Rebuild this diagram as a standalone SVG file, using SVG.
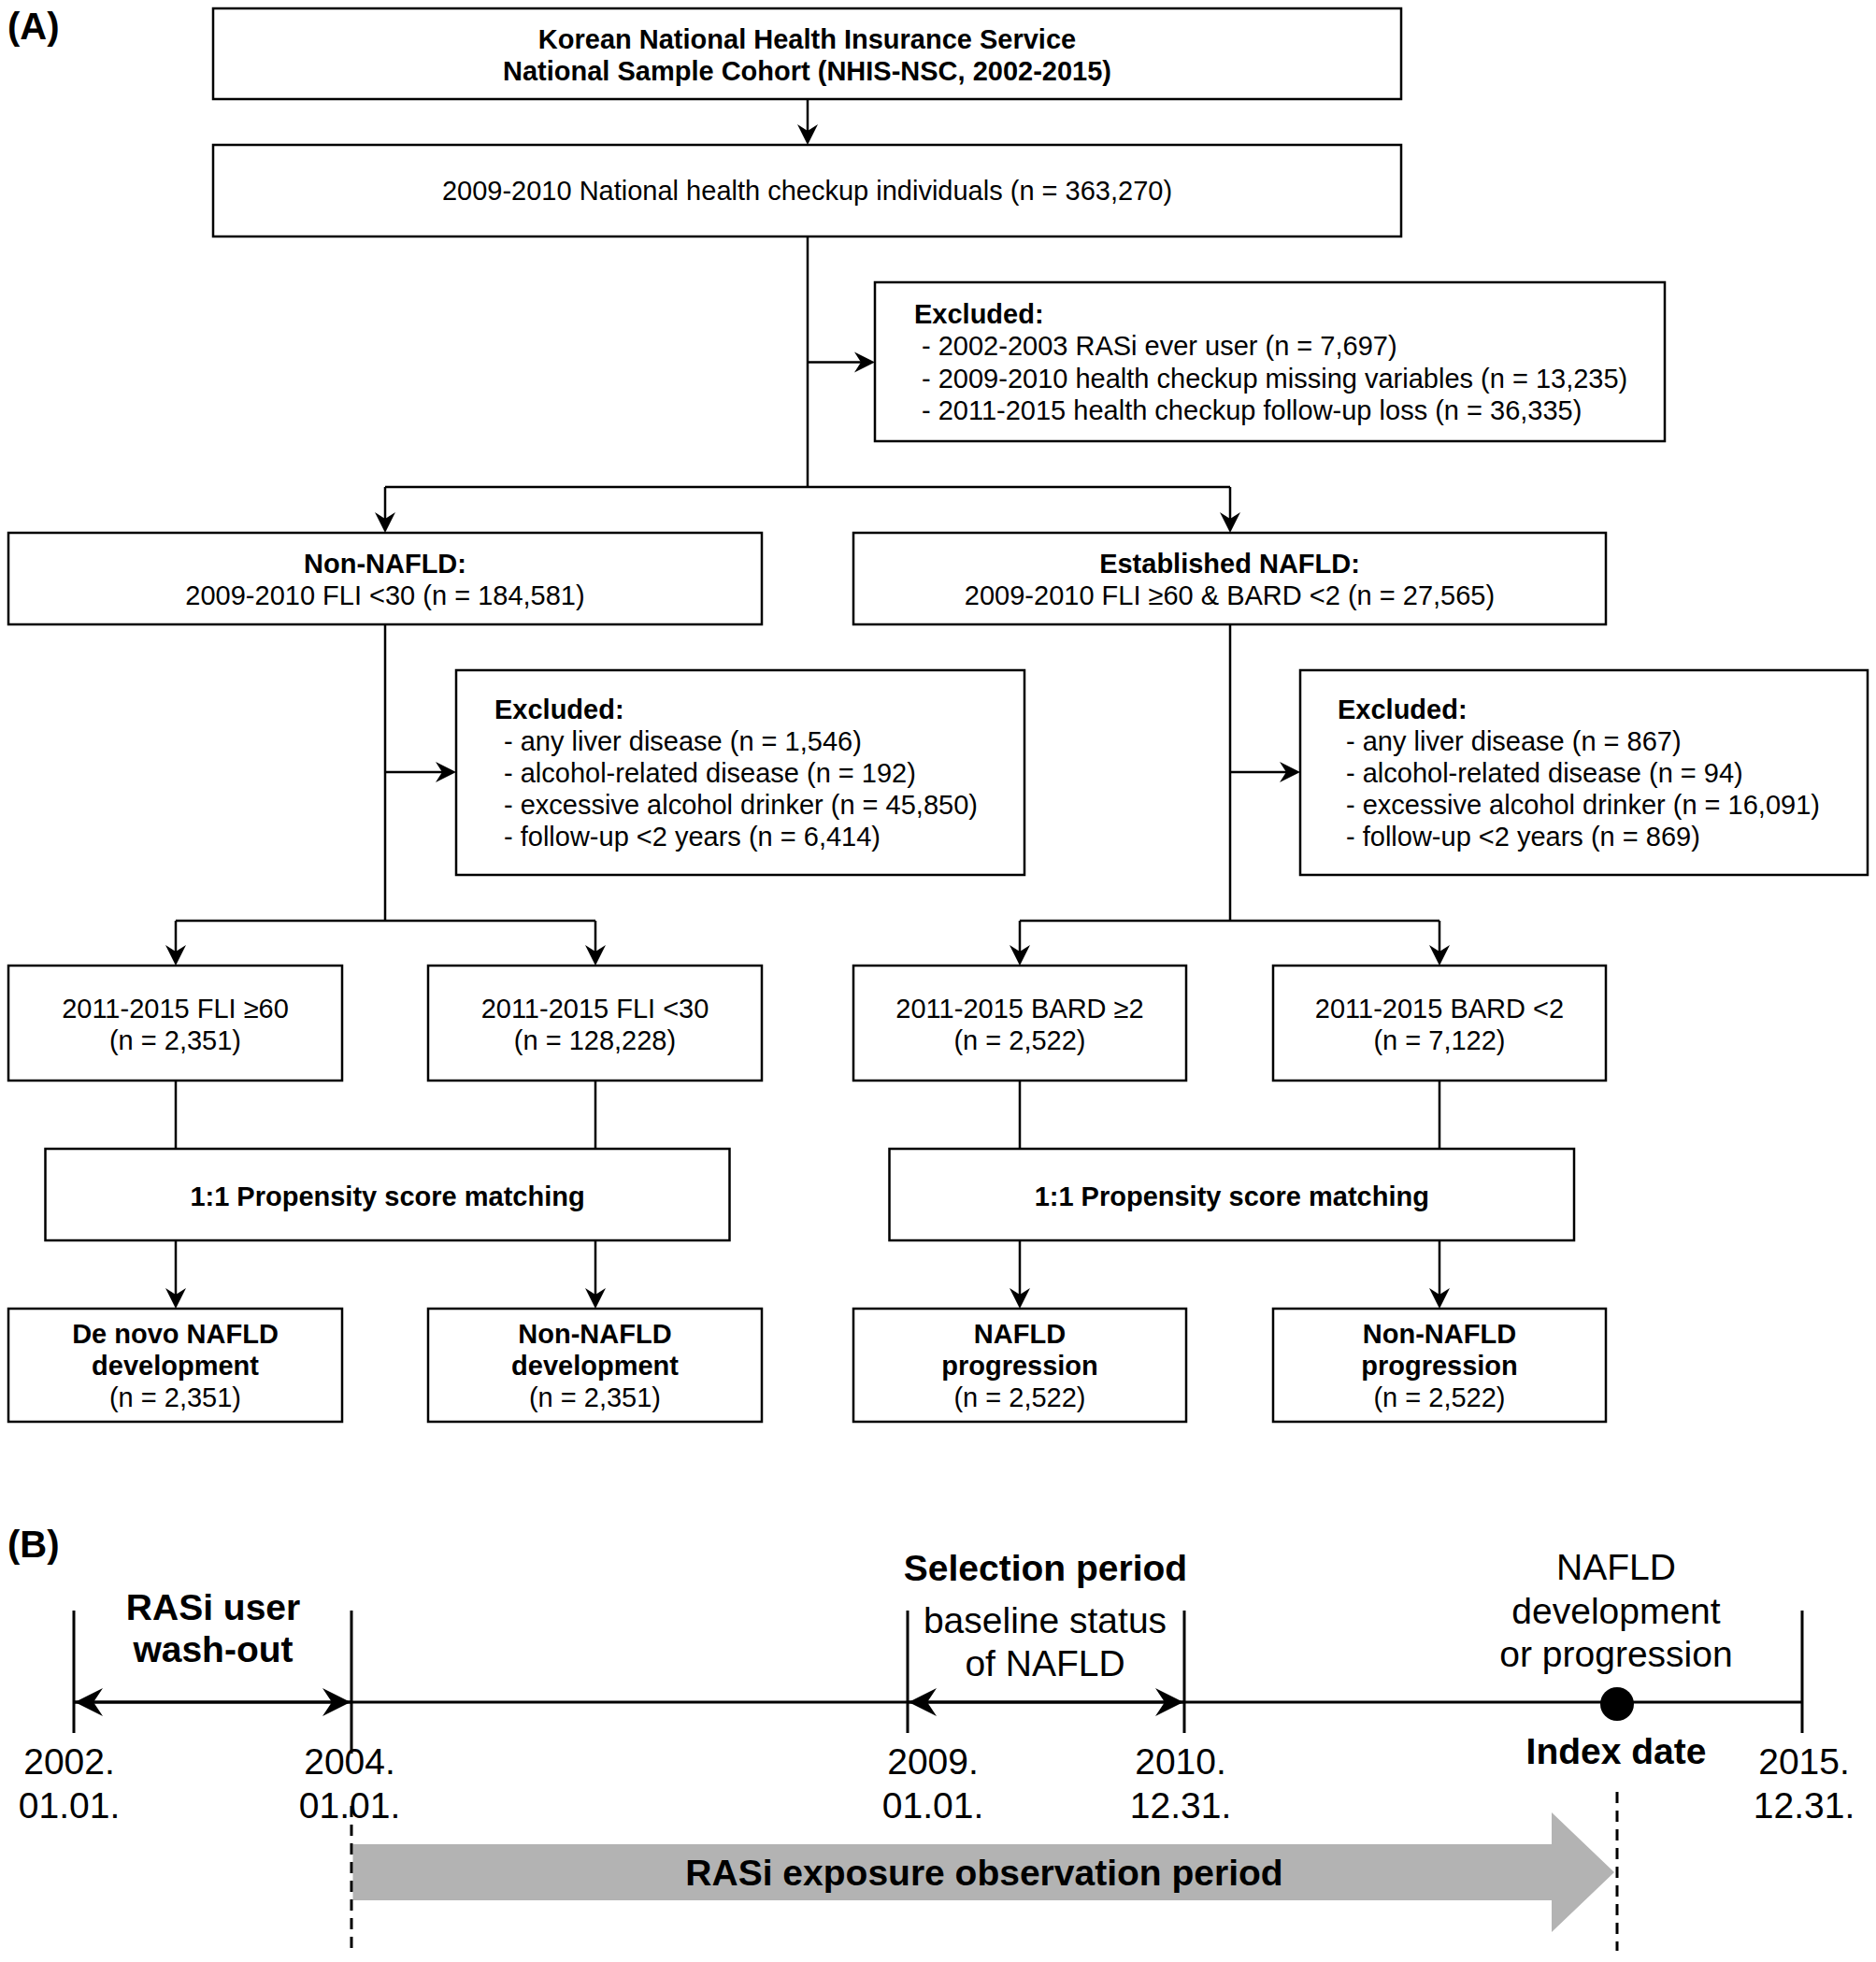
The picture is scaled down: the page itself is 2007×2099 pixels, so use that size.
<svg xmlns="http://www.w3.org/2000/svg" width="2007" height="2099" viewBox="0 0 2007 2099">
<style>
text{font-family:"Liberation Sans",Arial,Helvetica,sans-serif;fill:#000}
.a{font-size:29px}
.b{font-size:29px;font-weight:bold}
.c{text-anchor:middle}
.big{font-size:39px}
.bigb{font-size:39px;font-weight:bold}
.lab{font-size:40px;font-weight:bold}
.box{fill:#fff;stroke:#000;stroke-width:2.5}
.ln{fill:none;stroke:#000;stroke-width:2.5}
.tl{fill:none;stroke:#000;stroke-width:3}
.dash{fill:none;stroke:#000;stroke-width:3;stroke-dasharray:12 8}
</style>
<defs>
<marker id="arrA" viewBox="0 0 24 24" refX="16" refY="12" markerWidth="24" markerHeight="24" markerUnits="userSpaceOnUse" orient="auto">
<path d="M1,1 L23,12 L1,23 L8,12 Z" fill="#000"/>
</marker>
<marker id="arrB" viewBox="0 0 32 32" refX="31" refY="16" markerWidth="32" markerHeight="32" markerUnits="userSpaceOnUse" orient="auto-start-reverse">
<path d="M1,1 L31,16 L1,31 L11,16 Z" fill="#000"/>
</marker>
</defs>
<rect width="2007" height="2099" fill="#fff"/>
<text class="lab" x="8" y="42">(A)</text>
<text class="lab" x="8" y="1666">(B)</text>

<g id="connectors">
<path class="ln" d="M864,106 V148" marker-end="url(#arrA)"/>
<path class="ln" d="M864,253 V521"/>
<path class="ln" d="M864,387.5 H929" marker-end="url(#arrA)"/>
<path class="ln" d="M412,521 H1316"/>
<path class="ln" d="M412,521 V563" marker-end="url(#arrA)"/>
<path class="ln" d="M1316,521 V563" marker-end="url(#arrA)"/>
<path class="ln" d="M412,668 V985"/>
<path class="ln" d="M412,826 H481" marker-end="url(#arrA)"/>
<path class="ln" d="M188,985 H637"/>
<path class="ln" d="M188,985 V1026" marker-end="url(#arrA)"/>
<path class="ln" d="M637,985 V1026" marker-end="url(#arrA)"/>
<path class="ln" d="M1316,668 V985"/>
<path class="ln" d="M1316,826 H1384" marker-end="url(#arrA)"/>
<path class="ln" d="M1091,985 H1540"/>
<path class="ln" d="M1091,985 V1026" marker-end="url(#arrA)"/>
<path class="ln" d="M1540,985 V1026" marker-end="url(#arrA)"/>
<path class="ln" d="M188,1156 V1229 M637,1156 V1229 M1091,1156 V1229 M1540,1156 V1229"/>
<path class="ln" d="M188,1327 V1393" marker-end="url(#arrA)"/>
<path class="ln" d="M637,1327 V1393" marker-end="url(#arrA)"/>
<path class="ln" d="M1091,1327 V1393" marker-end="url(#arrA)"/>
<path class="ln" d="M1540,1327 V1393" marker-end="url(#arrA)"/>
</g>

<g id="n-cohort">
<rect class="box" x="228" y="9" width="1271" height="97"/>
<text class="b c" x="863.5" y="52">Korean National Health Insurance Service</text>
<text class="b c" x="863.5" y="86">National Sample Cohort (NHIS-NSC, 2002-2015)</text>
</g>
<g id="n-checkup">
<rect class="box" x="228" y="155" width="1271" height="98"/>
<text class="a c" x="863.5" y="214">2009-2010 National health checkup individuals (n = 363,270)</text>
</g>
<g id="n-excl1">
<rect class="box" x="936" y="302" width="845" height="170"/>
<text class="b" x="978" y="346">Excluded:</text>
<text class="a" x="986" y="380">- 2002-2003 RASi ever user (n = 7,697)</text>
<text class="a" x="986" y="415">- 2009-2010 health checkup missing variables (n = 13,235)</text>
<text class="a" x="986" y="449">- 2011-2015 health checkup follow-up loss (n = 36,335)</text>
</g>
<g id="n-nonnafld">
<rect class="box" x="9" y="570" width="806" height="98"/>
<text class="b c" x="412" y="613">Non-NAFLD:</text>
<text class="a c" x="412" y="647">2009-2010 FLI &lt;30 (n = 184,581)</text>
</g>
<g id="n-established">
<rect class="box" x="913" y="570" width="805" height="98"/>
<text class="b c" x="1315.5" y="613">Established NAFLD:</text>
<text class="a c" x="1315.5" y="647">2009-2010 FLI ≥60 &amp; BARD &lt;2 (n = 27,565)</text>
</g>
<g id="n-excl2">
<rect class="box" x="488" y="717" width="608" height="219"/>
<text class="b" x="529" y="769">Excluded:</text>
<text class="a" x="539" y="803">- any liver disease (n = 1,546)</text>
<text class="a" x="539" y="837">- alcohol-related disease (n = 192)</text>
<text class="a" x="539" y="871">- excessive alcohol drinker (n = 45,850)</text>
<text class="a" x="539" y="905">- follow-up &lt;2 years (n = 6,414)</text>
</g>
<g id="n-excl3">
<rect class="box" x="1391" y="717" width="607" height="219"/>
<text class="b" x="1431" y="769">Excluded:</text>
<text class="a" x="1440" y="803">- any liver disease (n = 867)</text>
<text class="a" x="1440" y="837">- alcohol-related disease (n = 94)</text>
<text class="a" x="1440" y="871">- excessive alcohol drinker (n = 16,091)</text>
<text class="a" x="1440" y="905">- follow-up &lt;2 years (n = 869)</text>
</g>
<g id="n-fli60">
<rect class="box" x="9" y="1033" width="357" height="123"/>
<text class="a c" x="187.5" y="1089">2011-2015 FLI ≥60</text>
<text class="a c" x="187.5" y="1123">(n = 2,351)</text>
</g>
<g id="n-fli30">
<rect class="box" x="458" y="1033" width="357" height="123"/>
<text class="a c" x="636.5" y="1089">2011-2015 FLI &lt;30</text>
<text class="a c" x="636.5" y="1123">(n = 128,228)</text>
</g>
<g id="n-bard2">
<rect class="box" x="913" y="1033" width="356" height="123"/>
<text class="a c" x="1091" y="1089">2011-2015 BARD ≥2</text>
<text class="a c" x="1091" y="1123">(n = 2,522)</text>
</g>
<g id="n-bardlt2">
<rect class="box" x="1362" y="1033" width="356" height="123"/>
<text class="a c" x="1540" y="1089">2011-2015 BARD &lt;2</text>
<text class="a c" x="1540" y="1123">(n = 7,122)</text>
</g>
<g id="n-psm-left">
<rect class="box" x="48.5" y="1229" width="732" height="98"/>
<text class="b c" x="414.5" y="1290">1:1 Propensity score matching</text>
</g>
<g id="n-psm-right">
<rect class="box" x="951.5" y="1229" width="732.5" height="98"/>
<text class="b c" x="1317.75" y="1290">1:1 Propensity score matching</text>
</g>
<g id="n-denovo">
<rect class="box" x="9" y="1400" width="357" height="121"/>
<text class="b c" x="187.5" y="1437">De novo NAFLD</text>
<text class="b c" x="187.5" y="1471">development</text>
<text class="a c" x="187.5" y="1505">(n = 2,351)</text>
</g>
<g id="n-nondev">
<rect class="box" x="458" y="1400" width="357" height="121"/>
<text class="b c" x="636.5" y="1437">Non-NAFLD</text>
<text class="b c" x="636.5" y="1471">development</text>
<text class="a c" x="636.5" y="1505">(n = 2,351)</text>
</g>
<g id="n-prog">
<rect class="box" x="913" y="1400" width="356" height="121"/>
<text class="b c" x="1091" y="1437">NAFLD</text>
<text class="b c" x="1091" y="1471">progression</text>
<text class="a c" x="1091" y="1505">(n = 2,522)</text>
</g>
<g id="n-nonprog">
<rect class="box" x="1362" y="1400" width="356" height="121"/>
<text class="b c" x="1540" y="1437">Non-NAFLD</text>
<text class="b c" x="1540" y="1471">progression</text>
<text class="a c" x="1540" y="1505">(n = 2,522)</text>
</g>

<g id="timeline">
<polygon points="377.5,1973 1660,1973 1660,1939 1727,2003 1660,2067 1660,2033 377.5,2033" fill="#b3b3b3"/>
<text class="bigb c" x="1053" y="2017">RASi exposure observation period</text>
<path class="tl" d="M79,1821 H1928"/>
<path class="tl" d="M79,1723 V1854 M376,1723 V1876 M971,1723 V1854 M1267,1723 V1854 M1928,1723 V1854"/>
<path class="tl" d="M80,1821 H375" marker-start="url(#arrB)" marker-end="url(#arrB)"/>
<path class="tl" d="M972,1821 H1266" marker-start="url(#arrB)" marker-end="url(#arrB)"/>
<path class="dash" d="M376,1932 V2087"/>
<path class="dash" d="M1730,1917 V2087"/>
<circle cx="1730" cy="1823" r="18" fill="#000"/>
<text class="bigb c" x="228" y="1733">RASi user</text>
<text class="bigb c" x="228" y="1778">wash-out</text>
<text class="bigb c" x="1118.5" y="1691">Selection period</text>
<text class="big c" x="1118" y="1747">baseline status</text>
<text class="big c" x="1118" y="1793">of NAFLD</text>
<text class="big c" x="1729" y="1690">NAFLD</text>
<text class="big c" x="1729" y="1737">development</text>
<text class="big c" x="1729" y="1783">or progression</text>
<text class="bigb c" x="1729" y="1887">Index date</text>
<text class="big c" x="74" y="1898">2002.</text>
<text class="big c" x="74" y="1945">01.01.</text>
<text class="big c" x="374" y="1898">2004.</text>
<text class="big c" x="374" y="1945">01.01.</text>
<text class="big c" x="998" y="1898">2009.</text>
<text class="big c" x="998" y="1945">01.01.</text>
<text class="big c" x="1263" y="1898">2010.</text>
<text class="big c" x="1263" y="1945">12.31.</text>
<text class="big c" x="1930" y="1898">2015.</text>
<text class="big c" x="1930" y="1945">12.31.</text>
</g>
</svg>
